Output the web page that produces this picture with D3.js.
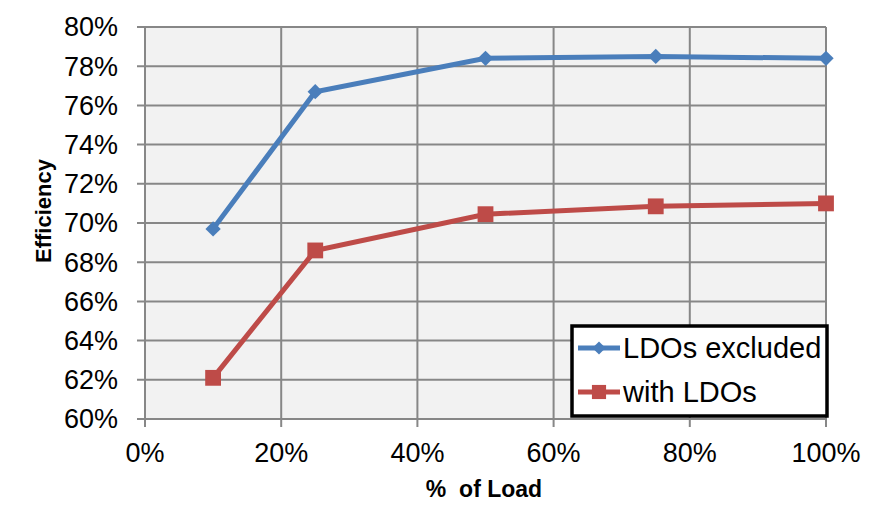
<!DOCTYPE html>
<html>
<head>
<meta charset="utf-8">
<script src="https://cdn.jsdelivr.net/npm/d3@7"></script>
<style>
  body { margin: 0; background: #fff; }
  text { font-family: Arial, "Liberation Sans", sans-serif; }
</style>
</head>
<body>
<svg id="chart" width="886" height="530"></svg>
<script>
// data
var loads = [10, 25, 50, 75, 100];
var ldosExcluded = [69.7, 76.7, 78.4, 78.5, 78.4];
var withLdos = [62.1, 68.6, 70.45, 70.85, 71.0];
var xTicks = [0, 20, 40, 60, 80, 100];
var yTicks = [60, 62, 64, 66, 68, 70, 72, 74, 76, 78, 80];
var seriesNames = ["LDOs excluded", "with LDOs"];

var GRID = "#878787";
var BLUE = "#4a7ebb";
var RED = "#be4b48";

var margin = {left: 145, right: 60, top: 27, bottom: 111};
var width = 886 - margin.left - margin.right;
var height = 530 - margin.top - margin.bottom;

var svg = d3.select("#chart");
var g = svg.append("g")
    .attr("transform", "translate(" + margin.left + "," + margin.top + ")");

var xScale = d3.scaleLinear().domain([0, 100]).range([0, width]);
var yScale = d3.scaleLinear().domain([60, 80]).range([height, 0]);

// plot background
g.append("rect")
    .attr("width", width)
    .attr("height", height)
    .attr("fill", "#f2f2f2");

// gridlines
g.selectAll(".hgrid")
    .data(yTicks)
    .enter().append("line")
    .attr("x1", -8)
    .attr("x2", width)
    .attr("y1", function(d) { return yScale(d); })
    .attr("y2", function(d) { return yScale(d); })
    .attr("stroke", GRID)
    .attr("stroke-width", 2);

g.selectAll(".vgrid")
    .data(xTicks)
    .enter().append("line")
    .attr("x1", function(d) { return xScale(d); })
    .attr("x2", function(d) { return xScale(d); })
    .attr("y1", 0)
    .attr("y2", height + 8)
    .attr("stroke", GRID)
    .attr("stroke-width", 2);

// tick labels
g.selectAll(".ylab")
    .data(yTicks)
    .enter().append("text")
    .attr("x", -27)
    .attr("y", function(d) { return yScale(d); })
    .attr("dy", "0.35em")
    .attr("text-anchor", "end")
    .attr("font-size", "27px")
    .attr("fill", "#000")
    .text(function(d) { return d + "%"; });

g.selectAll(".xlab")
    .data(xTicks)
    .enter().append("text")
    .attr("x", function(d) { return xScale(d); })
    .attr("y", height + 43)
    .attr("text-anchor", "middle")
    .attr("font-size", "27px")
    .attr("fill", "#000")
    .text(function(d) { return d + "%"; });

// axis titles
svg.append("text")
    .attr("transform", "translate(51,211) rotate(-90)")
    .attr("text-anchor", "middle")
    .attr("font-size", "22px")
    .attr("font-weight", "bold")
    .text("Efficiency");

svg.append("text")
    .attr("x", 484)
    .attr("y", 497)
    .attr("text-anchor", "middle")
    .attr("font-size", "23px")
    .attr("font-weight", "bold")
    .attr("xml:space", "preserve")
    .style("white-space", "pre")
    .text("%  of Load");

// lines
var drawLine = d3.line()
    .x(function(d) { return xScale(d.x); })
    .y(function(d) { return yScale(d.y); })
    .curve(d3.curveLinear);

function toPoints(vals) {
    return loads.map(function(l, i) { return {x: l, y: vals[i]}; });
}

var blueData = toPoints(ldosExcluded);
var redData = toPoints(withLdos);

g.append("path")
    .attr("d", drawLine(blueData))
    .attr("fill", "none")
    .attr("stroke", BLUE)
    .attr("stroke-width", 5);

g.append("path")
    .attr("d", drawLine(redData))
    .attr("fill", "none")
    .attr("stroke", RED)
    .attr("stroke-width", 5);

var diamond = d3.symbol().type(d3.symbolDiamond2).size(150);
var square = d3.symbol().type(d3.symbolSquare).size(250);

g.selectAll(".bpt")
    .data(blueData)
    .enter().append("path")
    .attr("d", diamond)
    .attr("transform", function(d) { return "translate(" + xScale(d.x) + "," + yScale(d.y) + ")"; })
    .attr("fill", BLUE);

g.selectAll(".rpt")
    .data(redData)
    .enter().append("path")
    .attr("d", square)
    .attr("transform", function(d) { return "translate(" + xScale(d.x) + "," + yScale(d.y) + ")"; })
    .attr("fill", RED);

// legend
var legend = svg.append("g");
legend.append("rect")
    .attr("x", 572)
    .attr("y", 326)
    .attr("width", 255)
    .attr("height", 90)
    .attr("fill", "#fff")
    .attr("stroke", "#000")
    .attr("stroke-width", 3.5);

var legendColors = [BLUE, RED];
var legendSymbols = [d3.symbol().type(d3.symbolDiamond2).size(110), d3.symbol().type(d3.symbolSquare).size(200)];

seriesNames.forEach(function(name, i) {
    var ly = 348 + i * 44;
    legend.append("line")
        .attr("x1", 578)
        .attr("x2", 620)
        .attr("y1", ly)
        .attr("y2", ly)
        .attr("stroke", legendColors[i])
        .attr("stroke-width", 5);
    legend.append("path")
        .attr("d", legendSymbols[i])
        .attr("transform", "translate(599," + ly + ")")
        .attr("fill", legendColors[i]);
    legend.append("text")
        .attr("x", 623)
        .attr("y", ly)
        .attr("dy", "0.35em")
        .attr("font-size", "29px")
        .text(name);
});
</script>
</body>
</html>
